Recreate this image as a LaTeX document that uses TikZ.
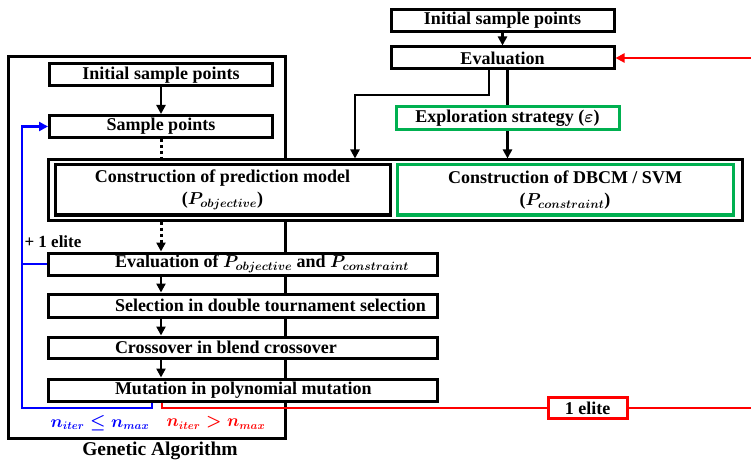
\documentclass[tikz,border=0pt]{standalone}
\usepackage{fontspec}
\setmainfont{Liberation Serif}
\usepackage{amsmath,bm}
\usetikzlibrary{arrows.meta}
\definecolor{gr}{RGB}{0,176,80}
\definecolor{myred}{RGB}{255,0,0}
\definecolor{myblue}{RGB}{0,0,255}
\tikzset{
 box/.style={draw, line width=3pt, fill=white, inner sep=0pt, minimum height=22pt, anchor=center},
 conn/.style={line width=2.5pt},
 tip/.style={-{Triangle[length=9pt,width=9pt]}},
 arr/.style={conn, tip},
 dots/.style={line width=3pt, dash pattern=on 3pt off 3pt},
 stepbox/.style={box, minimum width=389pt},
}
\newcommand{\lefttext}[1]{\makebox[389pt][l]{\hspace{67pt}#1}}
\begin{document}
\begin{tikzpicture}[x=1pt,y=-1pt,font=\fontsize{18}{20}\selectfont\bfseries\boldmath]
\useasboundingbox (0,0) rectangle (751,462);
% GA frame
\node[draw, line width=3pt, minimum width=277pt, minimum height=381pt, inner sep=0pt] (ga) at (146.5,247.5) {};
\node (gal) at (160,451) {\fontsize{19.5}{22}\selectfont Genetic Algorithm};
% left top
\node[box, minimum width=223pt] (isp1) at (161,75) {Initial sample points};
\node[box, minimum width=223pt] (sp) at (161,126.5) {Sample points};
% right top
\node[box, minimum width=223pt] (isp2) at (502.5,20.5) {Initial sample points};
\node[box, minimum width=223pt] (ev) at (502.5,58) {Evaluation};
\node[box, draw=gr, minimum width=223pt, minimum height=23pt] (ex) at (507.5,118.5) {Exploration strategy ($\varepsilon$)};
% model boxes
\node[box, minimum width=694pt, minimum height=60pt] (big) at (395,190) {};
\node[box, minimum width=335pt, minimum height=50pt, align=center, font=\fontsize{18}{22}\selectfont\bfseries\boldmath] (pm) at (222.5,190) {Construction of prediction model\\($P_{objective}$)};
\node[box, draw=gr, minimum width=336pt, minimum height=50pt, align=center, font=\fontsize{18}{22}\selectfont\bfseries\boldmath] (db) at (565,190) {Construction of DBCM / SVM\\($P_{constraint}$)};
% GA steps
\node[stepbox] (evp) at (242.5,264) {\lefttext{Evaluation of $P_{objective}$ and $P_{constraint}$}};
\node[stepbox, minimum height=23pt] (sel) at (242.5,305.5) {\lefttext{Selection in double tournament selection}};
\node[stepbox, minimum height=21pt] (cro) at (242.5,347.5) {\lefttext{Crossover in blend crossover}};
\node[stepbox] (mut) at (242.5,390) {\lefttext{Mutation in polynomial mutation}};
% elite box
\node[box, draw=myred, minimum width=79pt, minimum height=21pt] (elite) at (587.5,408) {1 elite};
% black connectors
\draw[arr] (isp1.south) -- (sp.north);
\draw[arr] (isp2.south) -- (ev.north);
\draw[dots] (sp.south) -- (big.north -| sp.south);
\draw[dots, tip] (big.south -| sp.south) -- (evp.north -| sp.south);
\draw[arr] (evp.south -| sp.south) -- (sel.north -| sp.south);
\draw[arr] (sel.south -| sp.south) -- (cro.north -| sp.south);
\draw[arr] (cro.south -| sp.south) -- (mut.north -| sp.south);
\coordinate (e1) at (489,95);
\coordinate (e2) at (355,95);
\draw[arr] (ev.south -| e1) -- (e1) -- (e2) -- (e2 |- big.north);
\draw[conn] (ev.south -| ex.north) -- (ex.north);
\draw[arr] (ex.south) -- (ex.south |- big.north);
% blue loop
\coordinate (bl1) at (22,408);
\coordinate (m1) at (152,0);
\draw[conn, myblue, tip] (mut.south -| m1) |- (bl1) |- (sp.west);
\draw[conn, myblue] (bl1 |- evp.west) -- (evp.west);
\node[anchor=west, font=\fontsize{17}{19}\selectfont\bfseries] (pe) at (21,242) {+ 1 elite};
% red loop
\coordinate (m2) at (162,0);
\coordinate (rr) at (755,408);
\draw[conn, myred] (mut.south -| m2) |- (elite.west);
\draw[conn, myred, tip] (elite.east) -- (rr) |- (ev.east);
% condition labels
\node[myblue, font=\fontsize{16}{18}\selectfont\bfseries\boldmath] (lb) at (100,423) {$n_{iter}\le n_{max}$};
\node[myred, font=\fontsize{16}{18}\selectfont\bfseries\boldmath] (lr) at (216,423) {$n_{iter}>n_{max}$};
\end{tikzpicture}
\end{document}
